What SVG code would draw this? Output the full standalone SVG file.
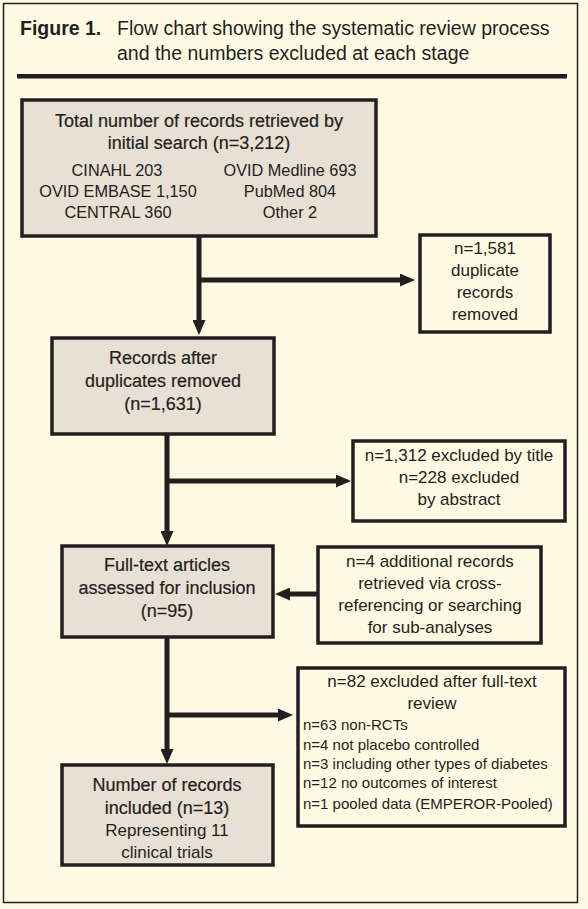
<svg xmlns="http://www.w3.org/2000/svg" width="588" height="909" viewBox="0 0 588 909">
<style>
text{font-family:"Liberation Sans",Arial,sans-serif;fill:#231F20;text-anchor:middle}
.hd{font-size:19.5px;text-anchor:start}
.hb{font-weight:bold}
.t{font-size:18px;stroke:#231F20;stroke-width:0.2px}
.r{font-size:17px}
.s{font-size:16.3px}
.l{font-size:15px;text-anchor:start}
.g{fill:#E8E0D4;stroke:#231F20;stroke-width:3.5}
.w{fill:#FFFAE3;stroke:#231F20;stroke-width:3.5}
.c{fill:none;stroke:#231F20;stroke-width:5;marker-end:url(#ah)}
</style>
<defs>
<marker id="ah" markerUnits="userSpaceOnUse" markerWidth="15" markerHeight="13" refX="0" refY="6.5" orient="auto" viewBox="0 0 15 13">
<path d="M0,0 L15,6.5 L0,13 z" fill="#231F20"/>
</marker>
</defs>
<rect x="0" y="0" width="588" height="909" fill="#FFFAE3"/>
<rect x="3.5" y="3.5" width="574" height="899" fill="#FFFAE3" stroke="#231F20" stroke-width="1.5"/>
<g id="header">
<text class="hd" x="20" y="35"><tspan class="hb">Figure 1.</tspan></text>
<text class="hd" x="117" y="35">Flow chart showing the systematic review process</text>
<text class="hd" x="117" y="60">and the numbers excluded at each stage</text>
<rect x="17" y="74" width="550" height="4.5" fill="#231F20"/>
</g>
<g id="connectors">
<path class="c" d="M199,236 V320"/>
<path class="c" d="M199,280 H400"/>
<path class="c" d="M167,434 V531"/>
<path class="c" d="M167,481 H336"/>
<path class="c" d="M318,594 H290"/>
<path class="c" d="M167,637 V749"/>
<path class="c" d="M167,715 H278"/>
</g>
<g id="n1">
<rect class="g" x="22" y="100" width="354" height="136"/>
<text class="t" x="199" y="127">Total number of records retrieved by</text>
<text class="t" x="199" y="149">initial search  (n=3,212)</text>
<text class="s" x="117" y="176">CINAHL 203</text>
<text class="s" x="118" y="197">OVID EMBASE 1,150</text>
<text class="s" x="118" y="218">CENTRAL 360</text>
<text class="s" x="290" y="176">OVID Medline 693</text>
<text class="s" x="290" y="197">PubMed 804</text>
<text class="s" x="290" y="218">Other 2</text>
</g>
<g id="n2">
<rect class="w" x="420" y="235" width="130" height="97"/>
<text class="r" x="485" y="254">n=1,581</text>
<text class="r" x="485" y="276">duplicate</text>
<text class="r" x="485" y="298">records</text>
<text class="r" x="485" y="320">removed</text>
</g>
<g id="n3">
<rect class="g" x="52" y="338" width="222" height="96"/>
<text class="t" x="163" y="364">Records after</text>
<text class="t" x="163" y="387">duplicates removed</text>
<text class="t" x="163" y="410">(n=1,631)</text>
</g>
<g id="n4">
<rect class="w" x="353" y="441" width="212" height="80"/>
<text class="r" x="459" y="461">n=1,312 excluded by title</text>
<text class="r" x="459" y="483">n=228 excluded</text>
<text class="r" x="459" y="505">by abstract</text>
</g>
<g id="n5">
<rect class="g" x="62" y="546" width="211" height="91"/>
<text class="t" x="167" y="571">Full-text articles</text>
<text class="t" x="167" y="594">assessed for inclusion</text>
<text class="t" x="167" y="617">(n=95)</text>
</g>
<g id="n6">
<rect class="w" x="318" y="547" width="223" height="96"/>
<text class="r" x="430" y="567">n=4 additional records</text>
<text class="r" x="430" y="589">retrieved via cross-</text>
<text class="r" x="430" y="611">referencing or searching</text>
<text class="r" x="430" y="633">for sub-analyses</text>
</g>
<g id="n7">
<rect class="w" x="298" y="668" width="267" height="158"/>
<text class="r" x="432" y="687">n=82 excluded after full-text</text>
<text class="r" x="432" y="709">review</text>
<text class="l" x="303" y="730">n=63 non-RCTs</text>
<text class="l" x="303" y="750">n=4 not placebo controlled</text>
<text class="l" x="303" y="769">n=3 including other types of diabetes</text>
<text class="l" x="303" y="788">n=12 no outcomes of interest</text>
<text class="l" x="303" y="809">n=1 pooled data (EMPEROR-Pooled)</text>
</g>
<g id="n8">
<rect class="g" x="62" y="765" width="211" height="100"/>
<text class="t" x="167" y="791">Number of records</text>
<text class="t" x="167" y="814">included (n=13)</text>
<text class="r" x="167" y="836">Representing 11</text>
<text class="r" x="167" y="858">clinical trials</text>
</g>
</svg>
